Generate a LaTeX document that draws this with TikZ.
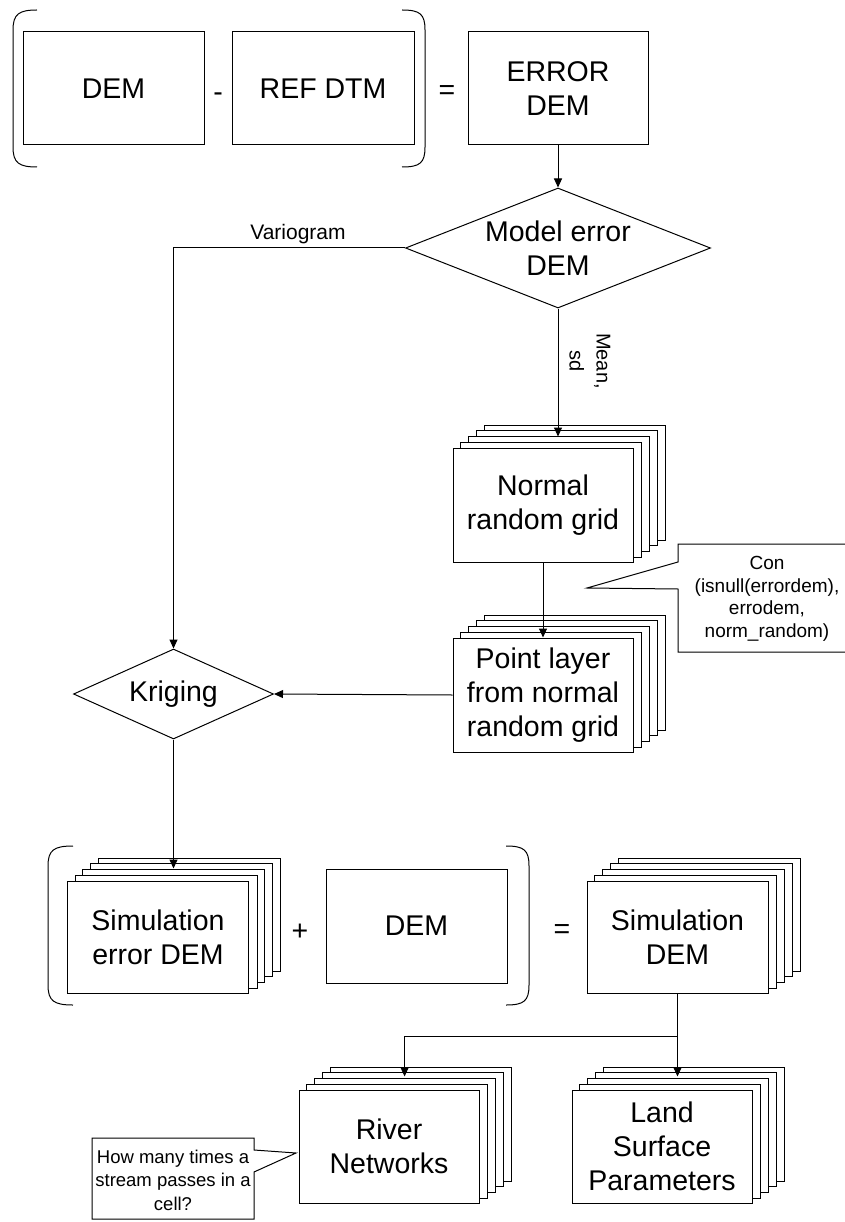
\documentclass[tikz,border=0pt]{standalone}
\usepackage{fontspec}
\setmainfont{Liberation Sans}
\usetikzlibrary{shapes.geometric,arrows.meta,backgrounds,calc}
\newcommand\bigf{\fontsize{28.5}{34}\selectfont}
\newcommand\smf{\fontsize{19}{22.5}\selectfont}
\newcommand\backlayers[1]{%
  \begin{scope}[on background layer]
    \foreach \k in {4,3,2,1}{
      \draw[fill=white] ([xshift=\k*7.8pt,yshift=\k*5.7pt]#1.south west) rectangle ([xshift=\k*7.8pt,yshift=\k*5.7pt]#1.north east);
    }
  \end{scope}}
\begin{document}
\begin{tikzpicture}[x=1pt,y=-1pt,line width=1pt,
  box/.style={draw,fill=white,minimum width=180pt,minimum height=113pt,inner sep=0pt,align=center,font=\bigf},
  decision/.style={draw,fill=white,diamond,inner sep=0pt},
  arr/.style={-{Triangle[length=9pt,width=8pt]}},
  op/.style={font=\bigf,inner sep=0pt},
  note/.style={font=\smf,align=center,inner sep=0pt}]
\useasboundingbox (0,0) rectangle (844,1222);

% top row
\node[box,minimum width=181pt] (dem1) at (113.5,88.5) {DEM};
\node[box,minimum width=182pt] (ref) at (323,88.5) {REF DTM};
\node[box] (err) at (558,88.5) {ERROR\\DEM};
\node[op] (minus) at (218,97) {-};
\node[op] (eq1) at (447,93) {=};
\draw (37,10) .. controls (19,10) and (13,14) .. (13,30) -- (13,147) .. controls (13,163) and (19,167) .. (37,167);
\draw (402,10) .. controls (420,10) and (425,14) .. (425,30) -- (425,147) .. controls (425,163) and (420,167) .. (402,167);

% model error diamond
\node[decision,minimum width=305pt,minimum height=120pt,
  label={[font=\bigf,align=center]center:Model error\\DEM}] (model) at (558,248) {};
\draw[arr] (err.south) -- (model.north);

% normal random grid
\node[box,minimum height=114pt] (normal) at (543,505) {Normal\\random grid};
\backlayers{normal}
\draw[arr] (model.south) -- ($(model.south |- normal.north)+(0,-11)$);
\node[note,rotate=-90,font=\fontsize{20}{27}\selectfont] (msd) at (590,361) {Mean,\\sd};

% point layer
\node[box,minimum height=114pt] (point) at (543,695) {Point layer\\from normal\\random grid};
\backlayers{point}
\draw[arr] (normal.south) -- (point.north);

% callout con
\draw[fill=white] (678,544) -- (850,544) -- (850,652) -- (678,652) -- (678,589) -- (587,588) -- (678,562) -- cycle;
\node[note] (con) at (767,599) {Con\\(isnull(errordem),\\errodem,\\norm\_random)};

% kriging
\node[decision,minimum width=200pt,minimum height=90pt,
  label={[font=\bigf]center:Kriging}] (krig) at (173.5,694) {};
\draw[arr] (point.west) -- (krig.east);
\draw[arr] (model.west) -- (krig.north |- model.west) -- (krig.north);
\node[note,font=\fontsize{21}{25}\selectfont] (vario) at (298,234) {Variogram};

% simulation row
\node[box,minimum width=181pt,minimum height=112pt] (simerr) at (158,937) {Simulation\\error DEM};
\backlayers{simerr}
\draw[arr] (krig.south) -- ($(krig.south |- simerr.north)+(0,-12)$);
\node[box,minimum width=181pt,minimum height=114pt] (dem2) at (416.5,926) {DEM};
\node[op] (plus) at (300,932) {+};
\node[op] (eq2) at (562,932) {=};
\draw (73,846) .. controls (54,846) and (48,850) .. (48,866) -- (48,985) .. controls (48,1001) and (54,1005) .. (73,1005);
\draw (506,846) .. controls (524,846) and (529,850) .. (529,866) -- (529,985) .. controls (529,1001) and (524,1005) .. (506,1005);
\node[box,minimum width=181pt,minimum height=112pt] (simdem) at (677.5,937) {Simulation\\DEM};
\backlayers{simdem}

% outputs
\node[box] (river) at (389,1146.5) {River\\Networks};
\backlayers{river}
\node[box] (land) at (662,1146.5) {Land\\Surface\\Parameters};
\backlayers{land}
\coordinate (split) at ($(simdem.south)+(0,43)$);
\draw[arr] (simdem.south) -- (split) -- ($(split |- land.north)+(0,-13)$);
\draw[arr] (split) -| ($(river.north)+(15.6,-13)$);

% left callout
\draw[fill=white] (92,1138) -- (254,1138) -- (254,1150) -- (296,1153) -- (254,1172) -- (254,1219) -- (92,1219) -- cycle;
\node[note,font=\fontsize{18.5}{23.5}\selectfont] (how) at (173,1180) {How many times a\\stream passes in a\\cell?};
\end{tikzpicture}
\end{document}
